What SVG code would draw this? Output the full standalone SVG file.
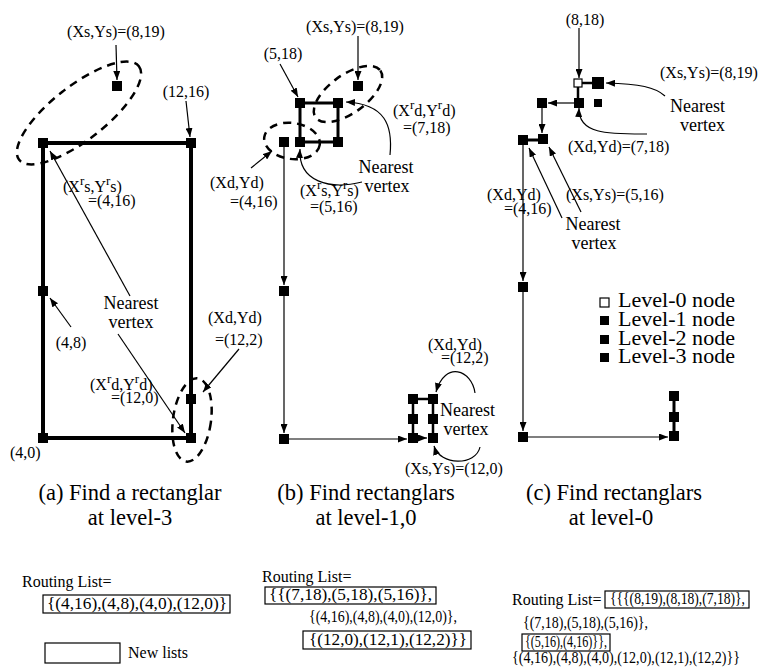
<svg xmlns="http://www.w3.org/2000/svg" width="761" height="672" viewBox="0 0 761 672">
<style>
text{font-family:"Liberation Serif","DejaVu Serif",serif;fill:#000;font-size:16px}
.nv{font-size:18px}
.cap{font-size:22.5px}
.lg{font-size:21px}
.sup{font-size:13px}
.n{fill:#000}
.hn{fill:#fff;stroke:#000;stroke-width:1.2}
.thick{stroke:#000;stroke-width:4;fill:none}
.med{stroke:#000;stroke-width:3;fill:none}
.thin{stroke:#000;stroke-width:1.2;fill:none}
.arr{stroke:#000;stroke-width:1.2;fill:none;marker-end:url(#ah)}
.dash{stroke:#000;stroke-width:2.5;stroke-dasharray:8 6;fill:none}
.box{fill:none;stroke:#000;stroke-width:1.2}
</style>
<defs>
<marker id="ah" markerWidth="9" markerHeight="7" refX="9" refY="3.5" orient="auto" markerUnits="userSpaceOnUse">
<path d="M0,0 L9,3.5 L0,7 z" fill="#000"/>
</marker>
</defs>
<rect width="761" height="672" fill="#fff"/>

<!-- ===== connectors ===== -->
<g id="connectors">
<!-- panel a -->
<path class="thick" d="M43,143 H191 V438 H43 Z"/>
<path class="arr" d="M116,45 L117,80"/>
<path class="arr" d="M186,101 L190,137"/>
<path class="arr" d="M130,296 L50,151"/>
<path class="arr" d="M118,334 L185,433"/>
<path class="arr" d="M71,327 L50,298"/>
<path class="arr" d="M239,349 L203,392"/>
<ellipse class="dash" cx="79" cy="113" rx="76" ry="27" transform="rotate(-38 79 113)"/>
<ellipse class="dash" cx="192" cy="420" rx="19" ry="42" transform="rotate(8 192 420)"/>
<!-- panel b -->
<path class="med" d="M300,103 H338 V142 H300 Z"/>
<path class="arr" d="M358,36 L358,80"/>
<path class="arr" d="M280,64 L298,97"/>
<path class="arr" d="M251,168 L272,151"/>
<path class="arr" d="M390,155 C393,125 385,104 346,102"/>
<path class="arr" d="M362,182 C330,190 298,182 300,149"/>
<ellipse class="dash" cx="348" cy="94" rx="40" ry="19" transform="rotate(-36 348 94)"/>
<ellipse class="dash" cx="292" cy="141" rx="28" ry="18" transform="rotate(8 292 141)"/>
<path class="arr" d="M284,147 V285"/>
<path class="arr" d="M284,296 V433"/>
<path class="arr" d="M289,439 H407"/>
<path class="med" d="M413,399 H433 M413,399 V438 M433,399 V438" style="stroke-width:2.5"/>
<path class="arr" d="M413,438 H427"/>
<path class="arr" d="M475,393 C472,370 445,360 436,392"/>
<path class="arr" d="M480,447 C476,466 440,466 434,446"/>
<!-- panel c -->
<path class="arr" d="M579,28 L579,78"/>
<path class="med" d="M578,83 H598 M578,83 V103" style="stroke-width:2.5"/>
<path class="arr" d="M665,96 C655,87 640,84 606,83"/>
<path class="arr" d="M647,134 C610,134 578,135 579,108"/>
<path class="arr" d="M574,103 H548"/>
<path class="arr" d="M542,108 V133"/>
<path class="med" d="M523,140 H543"/>
<path class="arr" d="M523,145 V281"/>
<path class="arr" d="M523,292 V431"/>
<path class="arr" d="M528,437 H668"/>
<path class="med" d="M674,396 V436"/>
<path class="arr" d="M562,218 L529,148"/>
<path class="arr" d="M581,212 L549,147"/>
</g>

<!-- ===== nodes ===== -->
<g id="node-a-src"><rect class="n" x="112" y="81" width="10" height="10"/></g>
<g id="node-a-4-16"><rect class="n" x="38" y="138" width="10" height="10"/></g>
<g id="node-a-12-16"><rect class="n" x="186" y="138" width="10" height="10"/></g>
<g id="node-a-4-8"><rect class="n" x="38" y="286" width="10" height="10"/></g>
<g id="node-a-12-2"><rect class="n" x="186" y="394" width="10" height="10"/></g>
<g id="node-a-4-0"><rect class="n" x="38" y="433" width="10" height="10"/></g>
<g id="node-a-12-0"><rect class="n" x="186" y="433" width="10" height="10"/></g>

<g id="node-b-src"><rect class="n" x="353" y="81" width="10" height="10"/></g>
<g id="node-b-5-18"><rect class="n" x="295" y="98" width="10" height="10"/></g>
<g id="node-b-7-18"><rect class="n" x="333" y="98" width="10" height="10"/></g>
<g id="node-b-5-16"><rect class="n" x="295" y="137" width="10" height="10"/></g>
<g id="node-b-7-16"><rect class="n" x="333" y="137" width="10" height="10"/></g>
<g id="node-b-4-16"><rect class="n" x="279" y="137" width="10" height="10"/></g>
<g id="node-b-4-8"><rect class="n" x="279" y="286" width="10" height="10"/></g>
<g id="node-b-4-0"><rect class="n" x="279" y="434" width="10" height="10"/></g>
<g id="node-b-c1"><rect class="n" x="408" y="394" width="10" height="10"/></g>
<g id="node-b-c2"><rect class="n" x="428" y="394" width="10" height="10"/></g>
<g id="node-b-c3"><rect class="n" x="408" y="414" width="10" height="10"/></g>
<g id="node-b-c4"><rect class="n" x="428" y="414" width="10" height="10"/></g>
<g id="node-b-c5"><rect class="n" x="408" y="433" width="10" height="10"/></g>
<g id="node-b-c6"><rect class="n" x="428" y="433" width="10" height="10"/></g>

<g id="node-c-8-18"><rect class="hn" x="574" y="79" width="8" height="8"/></g>
<g id="node-c-src"><rect class="n" x="592" y="77" width="12" height="12"/></g>
<g id="node-c-7-18"><rect class="n" x="574" y="98" width="10" height="10"/></g>
<g id="node-c-8-17"><rect class="n" x="594" y="99" width="8" height="8"/></g>
<g id="node-c-5-18"><rect class="n" x="537" y="98" width="10" height="10"/></g>
<g id="node-c-5-16"><rect class="n" x="538" y="134" width="10" height="10"/></g>
<g id="node-c-4-16"><rect class="n" x="518" y="135" width="10" height="10"/></g>
<g id="node-c-4-8"><rect class="n" x="518" y="282" width="10" height="10"/></g>
<g id="node-c-4-0"><rect class="n" x="518" y="432" width="10" height="10"/></g>
<g id="node-c-12-2"><rect class="n" x="669" y="391" width="10" height="10"/></g>
<g id="node-c-12-1"><rect class="n" x="669" y="412" width="10" height="10"/></g>
<g id="node-c-12-0"><rect class="n" x="669" y="431" width="10" height="10"/></g>

<!-- ===== labels panel a ===== -->
<g id="labels-a">
<text x="116" y="37" text-anchor="middle">(Xs,Ys)=(8,19)</text>
<text x="186" y="97" text-anchor="middle">(12,16)</text>
<text x="63" y="192">(X<tspan class="sup" dy="-7">r</tspan><tspan dy="7">s,Y</tspan><tspan class="sup" dy="-7">r</tspan><tspan dy="7">s)</tspan></text>
<text x="88" y="206">=(4,16)</text>
<text class="nv" x="131" y="309" text-anchor="middle">Nearest</text>
<text class="nv" x="131" y="328" text-anchor="middle">vertex</text>
<text x="71" y="348" text-anchor="middle">(4,8)</text>
<text x="90" y="390">(X<tspan class="sup" dy="-7">r</tspan><tspan dy="7">d,Y</tspan><tspan class="sup" dy="-7">r</tspan><tspan dy="7">d)</tspan></text>
<text x="111" y="403">=(12,0)</text>
<text x="208" y="323">(Xd,Yd)</text>
<text x="215" y="345">=(12,2)</text>
<text x="10" y="458">(4,0)</text>
<text class="cap" x="130" y="500" text-anchor="middle">(a) Find a rectanglar</text>
<text class="cap" x="130" y="525" text-anchor="middle">at level-3</text>
</g>

<!-- ===== labels panel b ===== -->
<g id="labels-b">
<text x="355" y="32" text-anchor="middle">(Xs,Ys)=(8,19)</text>
<text x="283" y="59" text-anchor="middle">(5,18)</text>
<text x="393" y="116">(X<tspan class="sup" dy="-7">r</tspan><tspan dy="7">d,Y</tspan><tspan class="sup" dy="-7">r</tspan><tspan dy="7">d)</tspan></text>
<text x="403" y="133">=(7,18)</text>
<text class="nv" x="386" y="173" text-anchor="middle">Nearest</text>
<text class="nv" x="387" y="192" text-anchor="middle">vertex</text>
<text x="210" y="188">(Xd,Yd)</text>
<text x="230" y="207">=(4,16)</text>
<text x="300" y="196">(X<tspan class="sup" dy="-7">r</tspan><tspan dy="7">s,Y</tspan><tspan class="sup" dy="-7">r</tspan><tspan dy="7">s)</tspan></text>
<text x="310" y="212">=(5,16)</text>
<text x="428" y="350">(Xd,Yd)</text>
<text x="441" y="363">=(12,2)</text>
<text class="nv" x="440" y="416">Nearest</text>
<text class="nv" x="466" y="435" text-anchor="middle">vertex</text>
<text x="405" y="474">(Xs,Ys)=(12,0)</text>
<text class="cap" x="366" y="500" text-anchor="middle">(b) Find rectanglars</text>
<text class="cap" x="366" y="525" text-anchor="middle">at level-1,0</text>
</g>

<!-- ===== labels panel c ===== -->
<g id="labels-c">
<text x="585" y="25" text-anchor="middle">(8,18)</text>
<text x="660" y="78">(Xs,Ys)=(8,19)</text>
<text class="nv" x="670" y="112">Nearest</text>
<text class="nv" x="680" y="131">vertex</text>
<text x="568" y="152">(Xd,Yd)=(7,18)</text>
<text x="487" y="200">(Xd,Yd)</text>
<text x="504" y="214">=(4,16)</text>
<text x="566" y="200">(Xs,Ys)=(5,16)</text>
<text class="nv" x="593" y="230" text-anchor="middle">Nearest</text>
<text class="nv" x="594" y="249" text-anchor="middle">vertex</text>
<text class="cap" x="614" y="500" text-anchor="middle">(c) Find rectanglars</text>
<text class="cap" x="611" y="525" text-anchor="middle">at level-0</text>
</g>

<!-- ===== legend ===== -->
<g id="legend">
<rect class="hn" x="600" y="298" width="9" height="9"/>
<rect class="n" x="600" y="316" width="9" height="9"/>
<rect class="n" x="600" y="335" width="9" height="9"/>
<rect class="n" x="600" y="353" width="9" height="9"/>
<text class="lg" x="618" y="307" textLength="117" lengthAdjust="spacingAndGlyphs">Level-0 node</text>
<text class="lg" x="618" y="326" textLength="117" lengthAdjust="spacingAndGlyphs">Level-1 node</text>
<text class="lg" x="618" y="345" textLength="117" lengthAdjust="spacingAndGlyphs">Level-2 node</text>
<text class="lg" x="618" y="363" textLength="117" lengthAdjust="spacingAndGlyphs">Level-3 node</text>
</g>

<!-- ===== routing lists ===== -->
<g id="routing-a">
<text x="22" y="587" font-size="16.5">Routing List=</text>
<rect class="box" x="43" y="595" width="187" height="18"/>
<text x="47" y="609" textLength="180" lengthAdjust="spacingAndGlyphs">{(4,16),(4,8),(4,0),(12,0)}</text>
<rect class="box" x="45" y="643" width="75" height="20"/>
<text x="128" y="658" font-size="16.5">New lists</text>
</g>
<g id="routing-b">
<text x="262" y="582" font-size="16.5">Routing List=</text>
<rect class="box" x="265" y="587" width="171" height="17"/>
<text x="269" y="600" textLength="163" lengthAdjust="spacingAndGlyphs">{{(7,18),(5,18),(5,16)},</text>
<text x="309" y="622" textLength="148" lengthAdjust="spacingAndGlyphs">{(4,16),(4,8),(4,0),(12,0)},</text>
<rect class="box" x="303" y="631" width="168" height="18"/>
<text x="309" y="645" textLength="158" lengthAdjust="spacingAndGlyphs">{(12,0),(12,1),(12,2)}}</text>
</g>
<g id="routing-c">
<text x="512" y="605" font-size="16.5">Routing List=</text>
<rect class="box" x="605" y="591" width="144" height="17"/>
<text x="610" y="604" textLength="135" lengthAdjust="spacingAndGlyphs">{{{(8,19),(8,18),(7,18)},</text>
<text x="523" y="628" textLength="125" lengthAdjust="spacingAndGlyphs">{(7,18),(5,18),(5,16)},</text>
<rect class="box" x="522" y="634" width="88" height="17"/>
<text x="525" y="647" textLength="82" lengthAdjust="spacingAndGlyphs">{(5,16),(4,16)}},</text>
<text x="512" y="663" textLength="228" lengthAdjust="spacingAndGlyphs">{(4,16),(4,8),(4,0),(12,0),(12,1),(12,2)}}</text>
</g>
</svg>
